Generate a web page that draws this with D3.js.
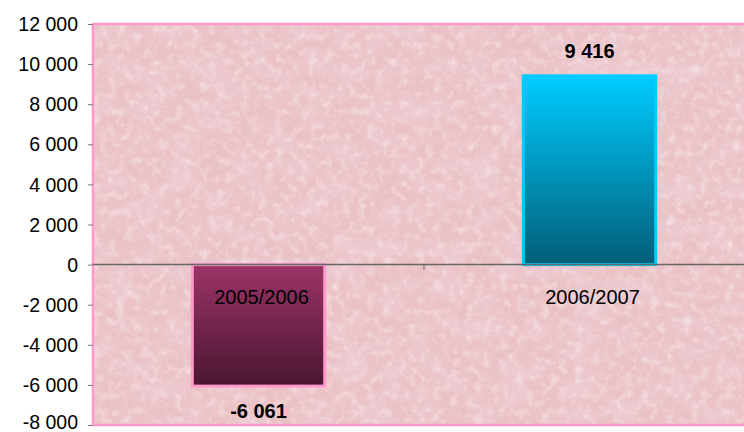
<!DOCTYPE html>
<html><head><meta charset="utf-8">
<script src="https://cdn.jsdelivr.net/npm/d3@7"></script>
<style>html,body{margin:0;padding:0;background:#fff;}svg{display:block;}</style>
</head><body>
<svg id="chart" width="744" height="432"></svg>
<script>
const categories = ["2005/2006", "2006/2007"];
const values = [-6061, 9416];
const valueLabels = ["-6 061", "9 416"];
const yTicks = [-8000, -6000, -4000, -2000, 0, 2000, 4000, 6000, 8000, 10000, 12000];

(function () {
const svg = d3.select("#chart");
const pLeft = 93, pRight = 755, pTop = 24, pBottom = 425;
const FONT = "Liberation Sans, Arial, sans-serif";

const defs = svg.append("defs");
const f = defs.append("filter").attr("id", "marble").attr("x", 0).attr("y", 0).attr("width", "100%").attr("height", "100%");
f.append("feTurbulence").attr("type", "fractalNoise").attr("baseFrequency", "0.03 0.05").attr("numOctaves", 5).attr("seed", 11).attr("result", "n");
f.append("feColorMatrix").attr("in", "n").attr("type", "matrix")
  .attr("values", "0 0 0 0 0.84  0 0 0 0 0.60  0 0 0 0 0.65  0 0 0 -2.4 1.40").attr("result", "c");
f.append("feComposite").attr("in", "c").attr("in2", "SourceGraphic").attr("operator", "in").attr("result", "c2");
f.append("feTurbulence").attr("type", "fractalNoise").attr("baseFrequency", "0.12").attr("numOctaves", 3).attr("seed", 3).attr("result", "n2");
f.append("feColorMatrix").attr("in", "n2").attr("type", "matrix")
  .attr("values", "0 0 0 0 0.95  0 0 0 0 0.83  0 0 0 0 0.84  0 0 0 -1.4 0.75").attr("result", "c3");
f.append("feComposite").attr("in", "c3").attr("in2", "SourceGraphic").attr("operator", "in").attr("result", "c4");
const m = f.append("feMerge");
m.append("feMergeNode").attr("in", "c2");
m.append("feMergeNode").attr("in", "c4");

const g1 = defs.append("linearGradient").attr("id", "gNeg").attr("x1", 0).attr("y1", 0).attr("x2", 0).attr("y2", 1);
g1.append("stop").attr("offset", "0%").attr("stop-color", "#9c3468");
g1.append("stop").attr("offset", "100%").attr("stop-color", "#4a1631");
const g2 = defs.append("linearGradient").attr("id", "gPos").attr("x1", 0).attr("y1", 0).attr("x2", 0).attr("y2", 1);
g2.append("stop").attr("offset", "0%").attr("stop-color", "#00ccff");
g2.append("stop").attr("offset", "100%").attr("stop-color", "#005e78");

const x = d3.scaleBand().domain(categories).range([pLeft, pRight]).paddingInner(0).paddingOuter(0);
const y = d3.scaleLinear().domain([-8000, 12000]).range([pBottom, pTop]);

svg.append("rect").attr("x", pLeft).attr("y", pTop).attr("width", pRight - pLeft).attr("height", pBottom - pTop).attr("fill", "#eac2c6");
svg.append("rect").attr("x", pLeft).attr("y", pTop).attr("width", pRight - pLeft).attr("height", pBottom - pTop).attr("fill", "#eac2c6").attr("filter", "url(#marble)");

svg.append("rect").attr("x", pLeft).attr("y", pTop).attr("width", pRight - pLeft).attr("height", pBottom - pTop)
  .attr("fill", "none").attr("stroke", "#ff99cc").attr("stroke-width", 2.5);

const yAxis = d3.axisLeft(y).tickValues(yTicks).tickSize(5).tickPadding(10)
  .tickFormat(d => d3.format(",")(d).replace(/,/g, " ").replace("−", "-"));
const ya = svg.append("g").attr("transform", `translate(${pLeft},0)`).call(yAxis);
ya.select(".domain").remove();
ya.selectAll(".tick line").attr("stroke", "#777");
ya.selectAll(".tick text").attr("font-family", FONT).attr("font-size", 19.5).attr("fill", "#000")
  .attr("dy", d => d === yTicks[0] ? "0.2em" : "0.34em");

const barW = x.bandwidth() * 0.4;
const colorsFill = ["url(#gNeg)", "url(#gPos)"];
const colorsStroke = ["#ff99cc", "#00ccff"];
svg.selectAll("rect.bar").data(values).join("rect").attr("class", "bar")
  .attr("x", (d, i) => x(categories[i]) + (x.bandwidth() - barW) / 2)
  .attr("y", d => y(Math.max(0, d)))
  .attr("width", barW)
  .attr("height", d => Math.abs(y(d) - y(0)))
  .attr("fill", (d, i) => colorsFill[i])
  .attr("stroke", (d, i) => colorsStroke[i]).attr("stroke-width", 3);

const xAxis = d3.axisBottom(x).tickSize(5).tickFormat("");
const xa = svg.append("g").attr("transform", `translate(0,${y(0)})`).call(xAxis);
xa.select(".domain").attr("stroke", "#666").attr("stroke-width", 1.5).attr("d", `M${pLeft},0H${pRight}`);
xa.selectAll(".tick").remove();
xa.append("line").attr("x1", pLeft + x.bandwidth()).attr("x2", pLeft + x.bandwidth()).attr("y1", 0).attr("y2", 5).attr("stroke", "#666");

svg.selectAll("text.cat").data(categories).join("text").attr("class", "cat")
  .attr("x", d => x(d) + x.bandwidth() / 2 + 3)
  .attr("y", y(0) + 39)
  .attr("text-anchor", "middle")
  .attr("font-family", FONT).attr("font-size", 20).attr("fill", "#000")
  .text(d => d);

svg.selectAll("text.val").data(values).join("text").attr("class", "val")
  .attr("x", (d, i) => x(categories[i]) + x.bandwidth() / 2)
  .attr("y", d => d < 0 ? y(d) + 32 : y(d) - 18)
  .attr("text-anchor", "middle")
  .attr("font-family", FONT).attr("font-size", 20).attr("font-weight", "bold").attr("fill", "#000")
  .text((d, i) => valueLabels[i]);
})();
</script>
</body></html>
